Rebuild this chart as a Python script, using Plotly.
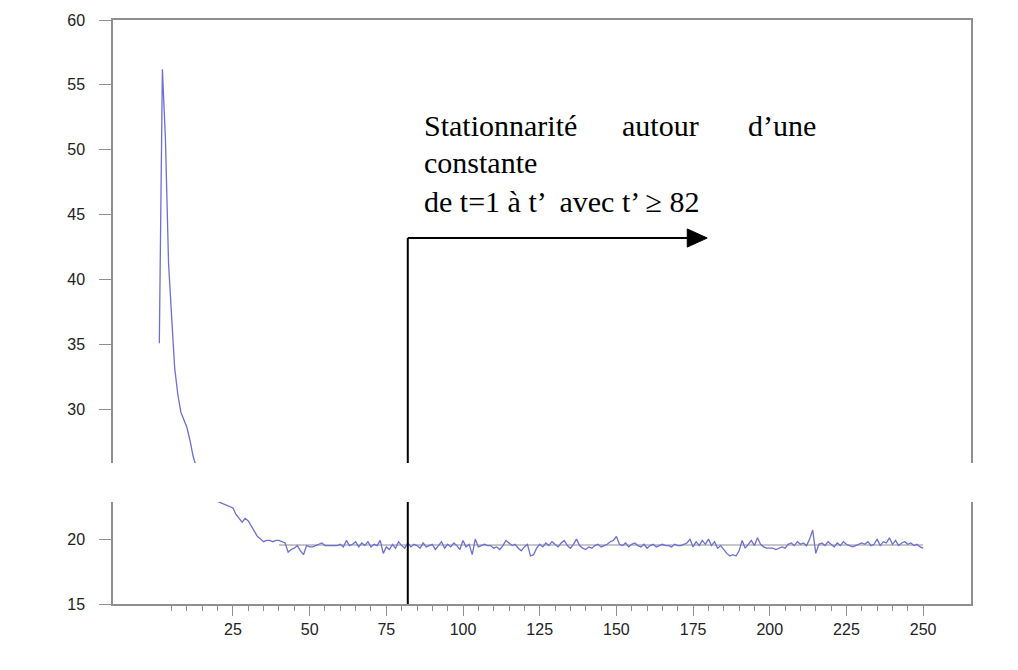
import plotly.graph_objects as go

# ---- data ----
t_start, t_end = 1, 250
values_1_50 = [35.1, 56.2, 50.8, 41.3, 37.2, 33.2, 31.2, 29.8, 29.2, 28.6,
               27.6, 26.4, 25.6, 25.0, 24.4, 24.0, 23.6, 23.3, 23.0, 22.9,
               22.8, 22.7, 22.6, 22.5, 22.4, 21.9, 21.6, 21.3, 21.6, 21.4,
               21.0, 20.6, 20.2, 20.0, 19.8, 19.9, 19.9, 19.8, 19.9, 19.9,
               19.8, 19.7, 19.0, 19.2, 19.3, 19.5, 19.1, 18.8, 19.5, 19.4]
values_51_100 = [19.4, 19.5, 19.6, 19.7, 19.5, 19.5, 19.5, 19.5, 19.5, 19.6,
                 19.4, 19.9, 19.5, 19.6, 19.8, 19.4, 19.7, 19.5, 19.8, 19.4,
                 19.6, 19.5, 19.9, 18.9, 19.4, 19.2, 19.6, 19.3, 19.8, 19.5,
                 19.3, 19.7, 19.4, 19.6, 19.5, 19.3, 19.7, 19.4, 19.5, 19.6,
                 19.2, 19.5, 19.8, 19.3, 19.6, 19.4, 19.7, 19.5, 19.2, 19.9]
values_101_150 = [19.4, 19.6, 18.8, 20.0, 19.4, 19.5, 19.6, 19.5, 19.5, 19.3,
                  19.4, 19.2, 19.5, 19.9, 19.7, 19.5, 19.6, 19.3, 19.1, 19.4,
                  19.6, 18.7, 18.8, 19.3, 19.6, 19.4, 19.7, 19.5, 19.8, 19.6,
                  19.4, 19.7, 19.9, 19.5, 19.3, 19.6, 20.0, 19.5, 19.3, 19.2,
                  19.4, 19.3, 19.5, 19.6, 19.4, 19.5, 19.6, 19.8, 19.9, 20.2]
values_151_200 = [19.6, 19.5, 19.7, 19.4, 19.6, 19.7, 19.5, 19.4, 19.6, 19.3,
                  19.5, 19.6, 19.4, 19.5, 19.6, 19.5, 19.5, 19.4, 19.6, 19.5,
                  19.5, 19.6, 19.7, 20.0, 19.4, 19.8, 19.5, 19.9, 19.6, 20.0,
                  19.5, 19.8, 19.3, 19.5, 19.2, 18.9, 18.7, 18.8, 18.7, 19.1,
                  19.9, 19.3, 19.6, 19.9, 19.5, 20.1, 19.6, 19.4, 19.3, 19.3]
values_201_250 = [19.3, 19.2, 19.3, 19.4, 19.3, 19.6, 19.7, 19.5, 19.8, 19.6,
                  19.7, 19.5, 20.0, 20.7, 18.9, 19.6, 19.7, 19.5, 19.8, 19.6,
                  19.4, 19.7, 19.5, 19.8, 19.6, 19.5, 19.4, 19.5, 19.6, 19.7,
                  19.6, 19.8, 19.5, 19.6, 20.0, 19.5, 19.8, 19.7, 20.1, 19.6,
                  19.9, 19.5, 19.7, 19.8, 19.6, 19.7, 19.5, 19.6, 19.4, 19.3]
series = values_1_50 + values_51_100 + values_101_150 + values_151_200 + values_201_250
t = list(range(t_start, t_end + 1))

mean_t = [40, 250]
mean_v = [19.55, 19.55]

x_ticks = [25, 50, 75, 100, 125, 150, 175, 200, 225, 250]
x_minor = [v for v in range(5, 255, 5) if v not in x_ticks]
y_ticks = [15, 20, 30, 35, 40, 45, 50, 55, 60]

t_prime = 82
arrow_y = 43.2
arrow_end = 179.6

fig = go.Figure()
fig.add_trace(go.Scatter(x=mean_t, y=mean_v, mode="lines",
                         line=dict(color="#b4b4b4", width=1.5), hoverinfo="skip"))
fig.add_trace(go.Scatter(x=t, y=series, mode="lines",
                         line=dict(color="#6c6fd4", width=1.3)))

axis_common = dict(showline=True, mirror=True, linecolor="#8f8f8f", linewidth=1.5,
                   showgrid=False, zeroline=False, ticks="outside", tickcolor="#8f8f8f",
                   tickfont=dict(family="Liberation Sans", size=16, color="#222222"))

fig.update_xaxes(range=[-14.1, 265.6], tickmode="array", tickvals=x_ticks, ticklen=10,
                 tickwidth=1.2,
                 minor=dict(tickmode="array", tickvals=x_minor, ticks="outside",
                            ticklen=5, tickcolor="#8f8f8f", tickwidth=1),
                 **axis_common)
fig.update_yaxes(range=[15, 60], tickmode="array", tickvals=y_ticks, ticklen=12,
                 tickwidth=1.2, ticklabelstandoff=11, **axis_common)

# arrow
fig.add_shape(type="line", xref="x", yref="y", x0=t_prime, x1=t_prime, y0=15, y1=arrow_y,
              line=dict(color="black", width=2), layer="above")
fig.add_shape(type="line", xref="x", yref="y", x0=t_prime, x1=arrow_end - 6.4, y0=arrow_y, y1=arrow_y,
              line=dict(color="black", width=2), layer="above")
fig.add_shape(type="path", xref="x", yref="y",
              path=f"M {arrow_end - 6.5},{arrow_y + 0.7} L {arrow_end},{arrow_y} L {arrow_end - 6.5},{arrow_y - 0.7} Z",
              fillcolor="black", line=dict(color="black", width=1), layer="above")

# white break band
fig.add_shape(type="rect", xref="paper", yref="paper", x0=-0.07, x1=1.01,
              y0=0.1747, y1=0.2414, fillcolor="white", line=dict(width=0), layer="above")

serif = dict(family="Liberation Serif", size=30, color="black")
ann = [
    ("Stationnarité", 0.3601, 0.8202, "left"),
    ("autour", 0.5909, 0.8202, "left"),
    ("d\u2019une", 0.8217, 0.8202, "right"),
    ("constante", 0.3601, 0.7568, "left"),
    ("de t=1 à t\u2019  avec t\u2019 \u2265 82", 0.3601, 0.6884, "left"),
]
for text, x, y, xa in ann:
    fig.add_annotation(text=text, xref="paper", yref="paper", x=x, y=y,
                       xanchor=xa, yanchor="middle", showarrow=False, font=serif)

fig.update_layout(width=1018, height=670, margin=dict(l=113, r=47, t=20, b=66),
                  paper_bgcolor="white", plot_bgcolor="white", showlegend=False)

fig.write_html("out.html")
